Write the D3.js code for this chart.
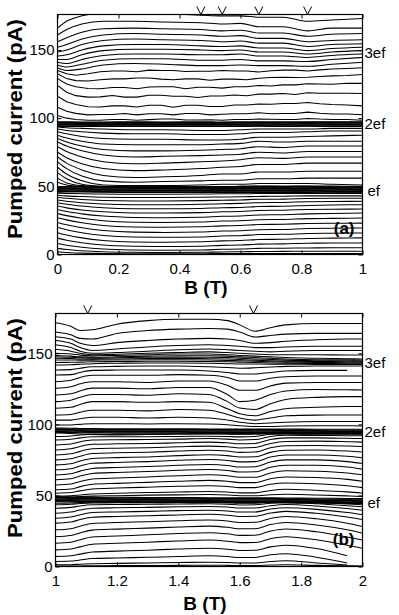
<!DOCTYPE html>
<html>
<head>
<meta charset="utf-8">
<script src="https://cdn.jsdelivr.net/npm/d3@7"></script>
<style>
  html, body { margin: 0; padding: 0; background: #fff; }
  svg { display: block; font-family: "Liberation Sans", Arial, Helvetica, sans-serif; }
</style>
</head>
<body>
<div id="grafico"></div>
<script>
// ==================== DATA ====================
// panel (a): B from 0 to 1 T
const gridA = [0, 0.03, 0.08, 0.15, 0.25, 0.35, 0.47, 0.54, 0.6, 0.66, 0.74, 0.82, 0.9, 1];

const upperA = [
  [166, 171, 175, 177, 177, 176.5, 175.5, 175, 175, 174, 174, 171, 172, 173],
  [161, 165, 169, 171, 171, 170.5, 170, 169, 169.5, 167, 167, 164, 166, 166],
  [156, 159, 163, 165.5, 166, 165.5, 165, 164, 164.5, 162.5, 162.5, 160, 161.5, 162],
  [152, 154, 158, 161, 162, 161.5, 161, 160, 160.5, 158.5, 158.5, 156, 157, 157.5],
  [148.5, 150, 154, 157, 158, 157.5, 157, 156, 156.5, 155, 155, 152.5, 154, 154.5],
  [145.5, 146.5, 150, 153, 154, 154, 153, 152.5, 153, 151.5, 151.5, 149.5, 151, 152],
  [143, 143, 146.5, 149.5, 150.5, 150.5, 150, 149.5, 150, 148.5, 148.5, 147, 148.5, 149.5],
  [141, 140, 143, 146, 147, 147, 146.5, 146.5, 147, 145.5, 145.5, 144.5, 146, 147],
  [139, 137.5, 139.5, 142.5, 143.5, 143.5, 142.5, 142.5, 143, 142, 142, 141.5, 143, 144.5],
  [137, 135, 136, 139, 140, 139.5, 138.5, 138.5, 139, 138.5, 138.5, 138, 139.5, 141]
];

// noisy traces between 2ef and 3ef, read on a finer B grid
const gridNoisyA = [0, 0.03, 0.06, 0.1, 0.14, 0.18, 0.22, 0.26, 0.3, 0.34, 0.38, 0.42, 0.46, 0.5,
                    0.54, 0.58, 0.62, 0.66, 0.7, 0.74, 0.78, 0.82, 0.86, 0.9, 0.95, 1];

const noisyA = [
  [135, 132.5, 131.5, 132.5, 134, 134.6, 134.6, 134, 135.2, 135, 135, 134.2, 134.4, 134.4, 135, 134.6, 134.6, 133.8, 134.8, 135.2, 135.2, 134.6, 135.4, 136, 136.4, 137],
  [132.5, 129, 127.5, 127.3, 128.2, 128.8, 128.8, 129.4, 129.4, 128.6, 128.2, 128.8, 128.8, 127.8, 128.6, 128.6, 128.2, 129.2, 129.8, 130, 129.8, 130, 130.6, 131, 131.2, 132],
  [129, 125, 123, 121.8, 121.6, 122.4, 122.4, 121.6, 122.8, 123, 123, 121.6, 122.6, 122.6, 122, 123, 123, 124, 123.6, 124.4, 124.4, 125.2, 125, 124.8, 125.6, 125.5],
  [124, 119, 116.5, 115.4, 115.6, 116.6, 115.4, 115.4, 116.8, 116.8, 116, 116, 115.2, 116.2, 116.2, 117, 116.4, 117.6, 117.6, 118, 117.4, 118.6, 118.2, 118.2, 118.2, 118],
  [116, 112, 110, 108.4, 108.2, 109, 109, 108.2, 109.4, 109.4, 108, 109.4, 109.4, 108.6, 108.6, 109.6, 109.6, 110.4, 110.2, 110.8, 110.8, 111.4, 110.6, 110, 109.6, 109],
  [108, 105, 103.5, 102.4, 102.6, 102.6, 103.4, 102.4, 103.2, 103.2, 102.4, 103.4, 103.4, 102.4, 102.8, 103.2, 103.2, 104, 103.2, 103.4, 103.4, 104.4, 103.6, 103, 103, 102.5],
  [102, 100, 99, 98.5, 98.5, 99, 99, 98.5, 98.9, 99.3, 99.3, 98.6, 98.6, 98.8, 98.5, 99, 99, 99.3, 99.2, 99, 99, 99.8, 99.3, 99, 99, 98.5]
];

const band96A = [
  [97.4, 97.3, 97.2, 97.2, 97.3, 97.2, 97.3, 97.2, 97.3, 97.4, 97.3, 97.4, 97.4, 97.4],
  [96.9, 96.8, 96.7, 96.8, 96.8, 96.7, 96.8, 96.8, 96.8, 96.9, 96.8, 96.9, 96.9, 96.9],
  [96.4, 96.3, 96.3, 96.3, 96.3, 96.3, 96.3, 96.3, 96.4, 96.4, 96.4, 96.4, 96.4, 96.4],
  [95.9, 95.8, 95.8, 95.8, 95.9, 95.8, 95.9, 95.8, 95.9, 95.9, 95.9, 96, 95.9, 95.9],
  [95.4, 95.3, 95.3, 95.4, 95.4, 95.4, 95.4, 95.4, 95.4, 95.5, 95.4, 95.5, 95.4, 95.4],
  [94.9, 94.8, 94.8, 94.9, 94.9, 94.9, 94.9, 94.9, 94.9, 95, 94.9, 95, 94.9, 94.9],
  [94.4, 94.3, 94.3, 94.4, 94.4, 94.4, 94.4, 94.4, 94.4, 94.5, 94.4, 94.5, 94.4, 94.4],
  [93.9, 93.8, 93.8, 93.9, 93.9, 93.9, 93.9, 93.9, 93.9, 94, 93.9, 94, 93.9, 93.9]
];

const middleA = [
  [93.5, 93, 92.5, 92, 91.5, 91.5, 91, 91, 91.5, 92, 92, 92, 92.5, 92.5],
  [92, 91, 90, 89, 88.5, 88.5, 88, 88, 88.5, 89.5, 89.5, 90, 90.5, 90.5],
  [90, 88.5, 86.5, 85, 84.5, 84.5, 84, 84, 84.5, 86, 86, 86.5, 87, 87.5],
  [87.5, 85.5, 83, 81, 80.5, 80.5, 80.5, 81, 81.5, 83, 82.5, 83, 83, 83],
  [85, 82.5, 79.5, 77, 76, 76, 76.5, 77, 77.5, 79, 78.5, 79.5, 79.5, 79.5],
  [82.5, 79.5, 76, 73, 71.5, 72, 72.5, 73, 73.5, 75, 74.5, 75.5, 75.5, 75.5],
  [79, 75.5, 71.5, 68, 66.5, 67, 68, 68.5, 69.5, 71, 70.5, 71.5, 71.5, 71.5],
  [75, 71, 66.5, 63, 61.5, 62, 63, 64, 64.5, 66, 66, 67, 67, 67],
  [71.5, 67, 62, 58, 56.5, 57, 58, 59, 59, 60.5, 60.5, 61, 61, 61],
  [68, 63, 57.5, 54, 53, 53.5, 54, 54.5, 54.5, 55.5, 55.5, 56, 56, 56],
  [64, 59, 54, 51, 50.5, 50.5, 51, 51.5, 51.5, 52, 52, 52, 51.5, 51],
  [60, 55.5, 51.5, 50, 49.5, 49.5, 49.5, 49.5, 50, 50, 50, 50, 49.5, 49.5],
  [56, 52.5, 50.5, 49.8, 49.5, 49.6, 49.7, 49.8, 50, 50.2, 50.1, 50.3, 50.2, 50],
  [53, 51, 50, 49.6, 49.4, 49.4, 49.5, 49.5, 49.6, 49.7, 49.6, 49.7, 49.6, 49.5]
];

const band48A = [
  [49.7, 49.8, 49.8, 49.6, 49.5, 49.5, 49.5, 49.4, 49.5, 49.5, 49.5, 49.4, 49.3, 49.2],
  [49.2, 49.3, 49.3, 49.1, 49, 49, 49, 48.9, 49, 49, 49, 48.9, 48.8, 48.7],
  [48.7, 48.8, 48.8, 48.6, 48.5, 48.5, 48.5, 48.4, 48.5, 48.5, 48.5, 48.4, 48.3, 48.2],
  [48.2, 48.3, 48.3, 48.1, 48, 48, 48, 47.9, 48, 48, 48, 47.9, 47.8, 47.7],
  [47.7, 47.8, 47.8, 47.6, 47.5, 47.5, 47.5, 47.4, 47.5, 47.5, 47.5, 47.4, 47.3, 47.2],
  [47.2, 47.3, 47.3, 47.1, 47, 47, 47, 46.9, 47, 47, 47, 46.9, 46.8, 46.7],
  [46.7, 46.8, 46.8, 46.6, 46.5, 46.5, 46.5, 46.4, 46.5, 46.5, 46.5, 46.4, 46.3, 46.2],
  [46.2, 46.3, 46.3, 46.1, 46, 46, 46, 45.9, 46, 46, 46, 45.9, 45.8, 45.7],
  [45.7, 45.8, 45.8, 45.6, 45.5, 45.5, 45.5, 45.4, 45.5, 45.5, 45.5, 45.4, 45.3, 45.2]
];

const lowerA = [
  [45, 44.8, 44.5, 44.3, 44.2, 44.2, 44.3, 44.5, 44.5, 44.7, 44.7, 44.8, 44.8, 44.8],
  [43.5, 43, 42.5, 42, 41.8, 41.8, 42, 42.2, 42.3, 42.6, 42.7, 43, 43, 43],
  [42, 41.2, 40.3, 39.6, 39.3, 39.3, 39.5, 39.8, 40, 40.5, 40.6, 41, 41.2, 41.3],
  [40, 39, 38, 37, 36.5, 36.5, 36.8, 37.2, 37.5, 38, 38.2, 38.7, 38.9, 39],
  [38, 36.8, 35.5, 34.3, 33.6, 33.5, 33.8, 34.3, 34.5, 35.2, 35.4, 36, 36.3, 36.5],
  [35.5, 34.2, 32.7, 31.3, 30.5, 30.4, 30.7, 31.3, 31.5, 32.3, 32.5, 33, 33.2, 33.3],
  [33, 31.5, 29.8, 28.2, 27.2, 27, 27.3, 28, 28.2, 29, 29.2, 29.8, 30.1, 30.4],
  [30, 28.5, 26.6, 24.8, 23.7, 23.5, 23.8, 24.5, 24.7, 25.5, 25.7, 26.3, 26.5, 26.7],
  [27, 25.4, 23.3, 21.3, 20.2, 20, 20.3, 21, 21.2, 22, 22.2, 22.7, 22.9, 23],
  [23.5, 21.8, 19.6, 17.6, 16.4, 16.2, 16.5, 17.2, 17.4, 18.2, 18.4, 19, 19.3, 19.5],
  [20, 18.2, 16, 14, 12.8, 12.6, 12.9, 13.6, 13.8, 14.6, 14.8, 15.4, 15.6, 15.8],
  [16, 14.3, 12.2, 10.3, 9.2, 9, 9.3, 10, 10.2, 11, 11.2, 11.8, 12, 12.2],
  [12, 10.5, 8.6, 6.9, 6, 5.8, 6.1, 6.7, 6.9, 7.6, 7.8, 8.3, 8.4, 8.5],
  [8, 6.8, 5.3, 4, 3.3, 3.1, 3.3, 3.8, 4, 4.5, 4.6, 4.8, 4.9, 4.9],
  [4.5, 3.7, 2.8, 2, 1.6, 1.5, 1.6, 1.9, 2, 2.2, 2.3, 2.4, 2.4, 2.4],
  [2, 1.5, 1, 0.8, 0.6, 0.6, 0.6, 0.7, 0.7, 0.7, 0.7, 0.7, 0.7, 0.7]
];

// panel (b): B from 1 to 2 T
const gridB = [1, 1.05, 1.08, 1.12, 1.2, 1.3, 1.4, 1.5, 1.56, 1.6, 1.65, 1.7, 1.75, 1.85, 1.95, 2];

const upperB = [
  [171.5, 169, 166, 166.5, 170.5, 173, 174, 174, 173, 170, 165.5, 168, 170, 171, 171, 171],
  [165, 163, 160.5, 160, 164, 166, 167, 167.5, 167, 165, 161.5, 162.5, 163.5, 164, 164, 164],
  [161.7, 160, 157, 155.5, 157.5, 159, 160, 160.5, 160, 159, 157, 157.5, 158.5, 159.5, 160, 160],
  [159, 157, 154, 152, 153, 154.5, 155.5, 156, 155.5, 155, 154, 154, 154.5, 155, 155, 155],
  [156, 154, 151.5, 150, 150.5, 151.5, 152.5, 153, 152.5, 152, 151.5, 151, 151.5, 152, 152, 152],
  [152.8, 151.5, 150, 149, 149.3, 150, 150.5, 151, 150.5, 150, 149.5, 149, 149, 149, 148.8, 148.8],
  [150, 149.5, 148.7, 148.2, 148.5, 149, 149.5, 149.5, 149, 148.5, 148, 147.5, 147, 146.5, 146.2, 146],
  [148.5, 148, 147.5, 147.2, 147.5, 148, 148.3, 148.3, 148, 147.5, 147, 146.5, 146, 145.5, 145.4, 145.3],
  [147.6, 147.2, 146.8, 146.6, 146.8, 147.2, 147.3, 147.2, 147, 146.6, 146, 145.6, 145.2, 144.8, 144.7, 144.6],
  [146.5, 146.3, 146, 145.9, 146, 146.3, 146.4, 146.2, 146, 145.6, 145.2, 144.8, 144.4, 144.2, 144.1, 144],
  [145.3, 145.3, 145.2, 145.2, 145.3, 145.4, 145.5, 145.3, 145, 144.7, 144.4, 144, 143.8, 143.5, 143.4, 143.3],
  [143.5, 143.7, 143.8, 144, 144.2, 144.4, 144.4, 144.2, 144, 143.8, 143.5, 143.2, 143, 142.8, 142.7, 142.7],
  [141.8, 142, 142.3, 142.7, 143, 143.2, 143.2, 143, 142.7, 142.5, 142.5, 142.3, 142.3, 142.2, 142.2, 142.2],
  [138.3, 138.5, 139.5, 140.5, 140.8, 141, 141, 140.5, 140, 139.5, 139.8, 140.3, 140.8, 141, 141, 141],
  [134.8, 135, 136.5, 138, 138.2, 138.3, 138.2, 137.5, 136.5, 135.5, 135.5, 136.5, 137.5, 138, 138, null],
  [130, 131, 133, 134.5, 134.5, 134.5, 135, 134.5, 133, 130.5, 130.5, 132.5, 133.5, 134, 134, 134],
  [125.4, 126.5, 128.5, 130, 130, 129.5, 130.5, 130.5, 127.5, 124, 124, 127, 129, 129.5, 129.5, 129.5],
  [120.7, 121.5, 123.5, 125.5, 125.5, 125, 126, 126, 121, 116, 117, 121, 123.5, 124.5, 124.3, 124.2],
  [116, 117, 119, 121, 121, 120.5, 121.5, 121, 116, 111.5, 110.5, 114.5, 117.5, 119, 119.5, 119.5],
  [111.3, 112, 114, 116, 116, 115.5, 116, 115.5, 111, 107.5, 106, 109, 111, 112, 112.5, 112.5],
  [106.6, 107, 108.5, 110, 110, 109.5, 110.5, 110, 107, 104.5, 103, 104.5, 106, 106.5, 106.6, 106.6],
  [103, 103, 104, 105, 105, 104.5, 105, 104.5, 103, 101.5, 100.5, 101, 101.5, 102, 102, 102],
  [99.6, 99.6, 100, 100.5, 100.5, 100.3, 100.5, 100.3, 99.8, 99, 98.5, 98.5, 98.8, 99, 99, 98.9]
];

const band96B = [
  [97.4, 97.3, 97.1, 97, 96.9, 96.9, 96.9, 96.8, 96.8, 96.8, 96.8, 96.8, 96.7, 96.6, 96.5, 96.5],
  [96.9, 96.8, 96.6, 96.5, 96.4, 96.4, 96.4, 96.3, 96.3, 96.3, 96.3, 96.3, 96.2, 96.1, 96, 96],
  [96.4, 96.3, 96.1, 96, 95.9, 95.9, 95.9, 95.8, 95.8, 95.8, 95.8, 95.8, 95.7, 95.6, 95.5, 95.5],
  [95.9, 95.8, 95.6, 95.5, 95.4, 95.4, 95.4, 95.3, 95.3, 95.3, 95.3, 95.3, 95.2, 95.1, 95, 95],
  [95.4, 95.3, 95.1, 95, 94.9, 94.9, 94.9, 94.8, 94.8, 94.8, 94.8, 94.8, 94.7, 94.6, 94.5, 94.5],
  [94.9, 94.8, 94.6, 94.5, 94.4, 94.4, 94.4, 94.3, 94.3, 94.3, 94.3, 94.3, 94.2, 94.1, 94, 94],
  [94.4, 94.3, 94.1, 94, 93.8, 93.7, 93.8, 93.8, 93.8, 93.8, 93.8, 93.8, 93.7, 93.6, 93.5, 93.5],
  [93.9, 93.6, 93.2, 92.9, 92.6, 92.8, 93.2, 93.4, 93.3, 93.3, 93.3, 93.3, 93.2, 93.1, 93, 93]
];

const middleB = [
  [91.4, 91.8, 92.5, 93, 93, 93, 93.2, 93.3, 93.2, 93, 93.2, 94, 94.5, 94.5, 94.5, 94.5],
  [89, 89.5, 90.5, 91.3, 91.3, 91.3, 91.5, 91.7, 91.5, 91.2, 91.5, 93, 93.5, 93.5, 93.5, 93.5],
  [85.5, 86.2, 87.8, 89, 89.2, 89.3, 89.6, 90, 89.6, 89, 89.3, 91.5, 92.3, 92.2, 92, 92],
  [82, 82.8, 84.5, 86, 86.3, 86.5, 87, 87.5, 87, 86.3, 86.6, 89.3, 90.5, 90.5, 90.2, 90],
  [78.5, 79.3, 81, 82.8, 83.2, 83.5, 84.2, 84.7, 84.2, 83.4, 83.7, 86.6, 88, 88.2, 87.8, 87.5],
  [75, 75.8, 77.6, 79.5, 80, 80.4, 81.2, 81.8, 81.2, 80.3, 80.5, 83.5, 85, 85.2, 84.8, 84.4],
  [71.5, 72.3, 74.2, 76, 76.6, 77.1, 78, 78.6, 78, 77, 77.2, 80.3, 81.8, 82, 81.2, 80.5],
  [68, 68.8, 70.7, 72.6, 73.2, 73.8, 74.7, 75.3, 74.6, 73.6, 73.8, 77, 78.5, 78.5, 77.5, 76.5],
  [64.4, 65.2, 67.1, 69, 69.7, 70.3, 71.2, 71.8, 71.1, 70, 70.2, 73.5, 75, 75, 73.8, 72.5],
  [61, 61.7, 63.6, 65.5, 66.2, 66.8, 67.7, 68.3, 67.6, 66.5, 66.6, 69.8, 71.3, 71.2, 70, 68.5],
  [57.4, 58, 59.8, 61.6, 62.3, 63, 63.9, 64.5, 63.8, 62.8, 62.8, 65.8, 67.3, 67, 65.8, 64.5],
  [54, 54.5, 56.2, 57.8, 58.5, 59.2, 60, 60.6, 60, 59, 59, 61.8, 63, 62.6, 61.3, 60],
  [51.6, 52, 53.2, 54.5, 55.2, 55.8, 56.4, 56.8, 56.3, 55.5, 55.5, 57.8, 58.8, 58.2, 56.8, 55.5],
  [49.5, 49.7, 50.3, 51, 51.5, 52, 52.4, 52.7, 52.4, 51.8, 51.8, 53.5, 54.3, 53.6, 52.5, 51.6],
  [48.8, 48.9, 49.2, 49.5, 49.8, 50.2, 50.4, 50.6, 50.3, 49.8, 49.8, 50.5, 50.8, 50.3, 49.7, 49.3]
];

const band48B = [
  [49, 48.9, 48.8, 48.8, 48.7, 48.6, 48.5, 48.4, 48.3, 48.3, 48.3, 48.3, 48.2, 48, 47.9, 47.8],
  [48.5, 48.4, 48.3, 48.3, 48.2, 48.1, 48, 47.9, 47.8, 47.8, 47.8, 47.8, 47.7, 47.5, 47.4, 47.3],
  [48, 47.9, 47.8, 47.8, 47.7, 47.6, 47.5, 47.4, 47.3, 47.3, 47.3, 47.3, 47.2, 47, 46.9, 46.8],
  [47.5, 47.4, 47.3, 47.3, 47.2, 47.1, 47, 46.9, 46.8, 46.8, 46.8, 46.8, 46.7, 46.5, 46.4, 46.3],
  [47, 46.9, 46.8, 46.8, 46.7, 46.6, 46.5, 46.4, 46.3, 46.3, 46.3, 46.3, 46.2, 46, 45.9, 45.8],
  [46.5, 46.4, 46.3, 46.3, 46.2, 46.1, 46, 45.9, 45.8, 45.8, 45.8, 45.8, 45.7, 45.5, 45.4, 45.3],
  [46, 45.9, 45.8, 45.8, 45.7, 45.6, 45.5, 45.4, 45.3, 45.3, 45.3, 45.3, 45.2, 45, 44.9, 44.8],
  [45.5, 45.4, 45.4, 45.4, 45.3, 45.2, 45.1, 45, 44.9, 44.8, 44.8, 44.8, 44.7, 44.5, 44.4, 44.3]
];

const lowerB = [
  [44.5, 44.7, 45, 45.3, 45.4, 45.5, 45.6, 45.6, 45.5, 45.3, 45.4, 45.8, 46, 45.5, 45, 44.6],
  [43.4, 43.8, 44.3, 44.7, 44.8, 44.9, 45, 45, 44.8, 44.5, 44.6, 45.3, 45.6, 45, 44, 43.4],
  [41, 41.6, 42.6, 43.4, 43.6, 43.8, 44, 44.1, 43.8, 43.3, 43.4, 44.5, 45, 44.2, 42.8, 42],
  [37.5, 38.3, 39.7, 41, 41.3, 41.6, 42, 42.2, 41.8, 41.1, 41.2, 42.8, 43.6, 42.6, 40.8, 39.6],
  [34, 34.8, 36.4, 38, 38.4, 38.8, 39.3, 39.6, 39.1, 38.3, 38.4, 40.4, 41.4, 40.2, 38, 36.5],
  [30.5, 31.3, 33, 34.7, 35.2, 35.7, 36.3, 36.7, 36.1, 35.2, 35.3, 37.6, 38.8, 37.4, 34.8, 33],
  [25.8, 26.6, 28.4, 30.3, 30.9, 31.5, 32.2, 32.7, 32, 31, 31.1, 33.8, 35.2, 33.6, 30.5, 28.2],
  [21, 21.8, 23.6, 25.6, 26.3, 27, 27.8, 28.4, 27.6, 26.5, 26.6, 29.5, 31, 29.2, 25.8, 23.4],
  [16.4, 17.1, 18.9, 20.8, 21.5, 22.3, 23.2, 23.8, 23, 21.9, 22, 24.9, 26.4, 24.4, 20.8, 18.7],
  [11.7, 12.3, 13.8, 15.6, 16.3, 17.1, 18, 18.6, 17.8, 16.8, 16.9, 19.6, 21, 18.8, 15, 12.9],
  [7, 7.5, 8.7, 10.2, 10.8, 11.5, 12.3, 12.9, 12.2, 11.3, 11.4, 13.8, 15, 12.6, 7.5, null],
  [3.5, 3.8, 4.6, 5.6, 6, 6.5, 7, 7.5, 7, 6.3, 6.4, 8.2, 9, 6.5, 2.5, null],
  [1.2, 1.3, 1.6, 2, 2.2, 2.5, 2.8, 3, 2.8, 2.4, 2.5, 3.5, 4, 2.5, 1, null],
  [0.3, 0.3, 0.4, 0.5, 0.6, 0.7, 0.8, 0.9, 0.8, 0.7, 0.7, 1, 1.2, 0.8, 0.5, 0.4]
];

const yTicks = [0, 50, 100, 150];
const xTicksA = [0, 0.2, 0.4, 0.6, 0.8, 1];
const xTicksB = [1, 1.2, 1.4, 1.6, 1.8, 2];
const plateauLabels = ["ef", "2ef", "3ef"];
const plateauPosA = [47, 96, 148];
const plateauPosB = [45, 94.5, 143.5];
const markersA = [0.47, 0.54, 0.66, 0.82];
const markersB = [1.105, 1.645];

// ==================== DRAWING ====================
const width = 399, height = 615;

const svg = d3.select("#grafico").append("svg")
  .attr("width", width)
  .attr("height", height)
  .attr("viewBox", [0, 0, width, height]);

function drawPanel(p) {
  const x = d3.scaleLinear().domain(p.xDomain).range([p.left, p.right]);
  const y = d3.scaleLinear().domain(p.yDomain).range([p.bottom, p.top]);

  const clipId = "clip-" + p.id;
  svg.append("clipPath").attr("id", clipId)
    .append("rect")
    .attr("x", p.left).attr("y", p.top)
    .attr("width", p.right - p.left).attr("height", p.bottom - p.top);

  const traces = svg.append("g").attr("clip-path", `url(#${clipId})`);

  p.groups.forEach(grp => {
    const line = d3.line()
      .defined(d => d[1] != null)
      .x(d => x(d[0]))
      .y(d => y(d[1]))
      .curve(grp.linear ? d3.curveLinear : d3.curveMonotoneX);

    traces.append("g")
      .selectAll("path")
      .data(grp.curves)
      .join("path")
      .attr("d", c => line(c.map((v, i) => [grp.grid[i], v])))
      .attr("fill", "none")
      .attr("stroke", "#000")
      .attr("stroke-width", 1.05)
      .attr("stroke-linejoin", "round");
  });

  // axes with inward ticks
  const fmt = d => String(d);
  const axes = [
    svg.append("g").attr("transform", `translate(0,${p.bottom})`)
      .call(d3.axisBottom(x).tickValues(p.xTicks).tickFormat(fmt).tickSizeInner(-4).tickSizeOuter(0).tickPadding(9)),
    svg.append("g").attr("transform", `translate(0,${p.top})`)
      .call(d3.axisTop(x).tickValues(p.xTicks).tickFormat("").tickSizeInner(-4).tickSizeOuter(0)),
    svg.append("g").attr("transform", `translate(${p.left},0)`)
      .call(d3.axisLeft(y).tickValues(yTicks).tickFormat(fmt).tickSizeInner(-4).tickSizeOuter(0).tickPadding(3)),
    svg.append("g").attr("transform", `translate(${p.right},0)`)
      .call(d3.axisRight(y).tickValues(yTicks).tickFormat("").tickSizeInner(-4).tickSizeOuter(0))
  ];
  axes.forEach(a => {
    a.attr("font-size", 15).attr("font-family", "Liberation Sans, Arial, sans-serif");
    a.select(".domain").remove();
    a.selectAll("text").attr("fill", "#000");
    a.selectAll(".tick line").attr("stroke", "#000");
  });

  // frame
  svg.append("rect")
    .attr("x", p.left).attr("y", p.top)
    .attr("width", p.right - p.left).attr("height", p.bottom - p.top)
    .attr("fill", "none").attr("stroke", "#000").attr("stroke-width", 1.2);

  // markers above the frame
  svg.append("g").selectAll("path")
    .data(p.markers)
    .join("path")
    .attr("d", b => `M${x(b) - 4},${p.top - 8}L${x(b)},${p.top}L${x(b) + 4},${p.top - 8}`)
    .attr("fill", "none").attr("stroke", "#000").attr("stroke-width", 1);

  // plateau labels on the right
  svg.append("g").selectAll("text")
    .data(plateauLabels)
    .join("text")
    .attr("x", (d, i) => i === 0 ? p.right + 5 : p.right + 2)
    .attr("y", (d, i) => y(p.plateauPos[i]))
    .attr("dy", "0.35em")
    .attr("font-size", 15)
    .text(d => d);

  // panel letter
  svg.append("text")
    .attr("x", p.right - 8).attr("y", p.letterY)
    .attr("text-anchor", "end")
    .attr("font-size", 17).attr("font-weight", "bold")
    .text(p.letter);

  // axis titles
  svg.append("text")
    .attr("x", (p.left + p.right) / 2 - 4).attr("y", p.bottom + p.xTitleOffset)
    .attr("text-anchor", "middle")
    .attr("font-size", 19).attr("font-weight", "bold")
    .text("B (T)");

  svg.append("text")
    .attr("transform", `translate(22,${p.yTitleCenter}) rotate(-90)`)
    .attr("text-anchor", "middle")
    .attr("font-size", 20).attr("font-weight", "bold")
    .attr("textLength", 220).attr("lengthAdjust", "spacingAndGlyphs")
    .text("Pumped current (pA)");
}

drawPanel({
  id: "a", left: 57.5, right: 362.5, top: 14.5, bottom: 254.5,
  xDomain: [0, 1], yDomain: [0, 176],
  groups: [
    { grid: gridA, curves: [...upperA, ...band96A, ...middleA, ...band48A, ...lowerA] },
    { grid: gridNoisyA, curves: noisyA, linear: true }
  ],
  xTicks: xTicksA, markers: markersA, plateauPos: plateauPosA,
  letter: "(a)", letterY: 234, xTitleOffset: 39, yTitleCenter: 129
});

drawPanel({
  id: "b", left: 55.5, right: 362.5, top: 313.5, bottom: 566.5,
  xDomain: [1, 2], yDomain: [0, 178],
  groups: [
    { grid: gridB, curves: [...upperB, ...band96B, ...middleB, ...band48B, ...lowerB] }
  ],
  xTicks: xTicksB, markers: markersB, plateauPos: plateauPosB,
  letter: "(b)", letterY: 545, xTitleOffset: 43, yTitleCenter: 428
});
</script>
</body>
</html>
